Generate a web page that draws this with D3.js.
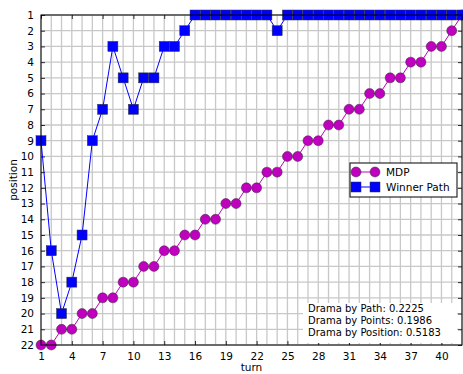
<!DOCTYPE html>
<html>
<head>
<meta charset="utf-8">
<script src="https://cdn.jsdelivr.net/npm/d3@7"></script>
<style>
  body { margin: 0; background: #fff; }
  svg text { font-family: "DejaVu Sans", sans-serif; fill: #000; }
</style>
</head>
<body>
<div id="chart"></div>
<script>
// chart data
const turns = d3.range(1, 43);
const mdp = [22, 22, 21, 21, 20, 20, 19, 19, 18, 18, 17, 17, 16, 16, 15, 15, 14, 14, 13, 13, 12, 12,
  11, 11, 10, 10, 9, 9, 8, 8, 7, 7, 6, 6, 5, 5, 4, 4, 3, 3, 2, 1];
const winnerPath = [9, 16, 20, 18, 15, 9, 7, 3, 5, 7, 5, 5, 3, 3, 2, 1, 1, 1, 1, 1, 1, 1,
  1, 2, 1, 1, 1, 1, 1, 1, 1, 1, 1, 1, 1, 1, 1, 1, 1, 1, 1, 1];
const xTicks = [1, 4, 7, 10, 13, 16, 19, 22, 25, 28, 31, 34, 37, 40];
const yTicks = d3.range(1, 23);
const dramaLines = ['Drama by Path: 0.2225', 'Drama by Points: 0.1986', 'Drama by Position: 0.5183'];
const seriesNames = ['MDP', 'Winner Path'];

const W = 463, H = 374;
const pLeft = 41, pRight = 462, pTop = 15, pBottom = 345;

const svg = d3.select('#chart').append('svg')
  .attr('width', W).attr('height', H);

const x = d3.scaleLinear().domain([1, 42]).range([pLeft, pRight]);
const y = d3.scaleLinear().domain([1, 22]).range([pTop, pBottom]);

// grid lines
const grid = svg.append('g');
grid.selectAll('.vg').data(turns).enter().append('line')
  .attr('x1', d => x(d)).attr('x2', d => x(d))
  .attr('y1', pTop).attr('y2', pBottom)
  .attr('stroke', '#c8c8c8').attr('stroke-width', 1.3);
grid.selectAll('.hg').data(yTicks).enter().append('line')
  .attr('x1', pLeft).attr('x2', pRight)
  .attr('y1', d => y(d)).attr('y2', d => y(d))
  .attr('stroke', '#c8c8c8').attr('stroke-width', 1.3);

// axes (ticks inside, on all four sides)
svg.append('g').attr('transform', 'translate(0,' + pBottom + ')')
  .call(d3.axisBottom(x).tickValues(xTicks).tickSize(-4).tickPadding(8).tickFormat(d3.format('d')))
  .call(g => g.select('.domain').remove());
svg.append('g').attr('transform', 'translate(0,' + pTop + ')')
  .call(d3.axisTop(x).tickValues(xTicks).tickSize(-4).tickFormat(''))
  .call(g => g.select('.domain').remove());
svg.append('g').attr('transform', 'translate(' + pLeft + ',0)')
  .call(d3.axisLeft(y).tickValues(yTicks).tickSize(-4).tickPadding(7).tickFormat(d3.format('d')))
  .call(g => g.select('.domain').remove());
svg.append('g').attr('transform', 'translate(' + pRight + ',0)')
  .call(d3.axisRight(y).tickValues(yTicks).tickSize(-4).tickFormat(''))
  .call(g => g.select('.domain').remove());
svg.selectAll('.tick text').attr('font-size', 10.5).attr('font-family', '"DejaVu Sans", sans-serif').attr('fill', '#000');
svg.selectAll('.tick line').attr('stroke', '#000').attr('stroke-width', 0.8);

// series
const plot = svg.append('g');
const line = d3.line().x((d, i) => x(turns[i])).y(d => y(d));

plot.append('path').datum(mdp)
  .attr('d', line).attr('fill', 'none')
  .attr('stroke', '#bf00bf').attr('stroke-width', 1);
plot.selectAll('.mdp').data(mdp).enter().append('circle')
  .attr('cx', (d, i) => x(turns[i])).attr('cy', d => y(d)).attr('r', 5)
  .attr('fill', '#bf00bf').attr('stroke', '#333').attr('stroke-width', 0.5);

plot.append('path').datum(winnerPath)
  .attr('d', line).attr('fill', 'none')
  .attr('stroke', '#0000ff').attr('stroke-width', 1);
plot.selectAll('.wp').data(winnerPath).enter().append('rect')
  .attr('x', (d, i) => x(turns[i]) - 5).attr('y', d => y(d) - 5)
  .attr('width', 10).attr('height', 10)
  .attr('fill', '#0000ff').attr('stroke', '#333').attr('stroke-width', 0.5);

// frame
svg.append('rect').attr('x', pLeft).attr('y', pTop)
  .attr('width', pRight - pLeft).attr('height', pBottom - pTop)
  .attr('fill', 'none').attr('stroke', '#000').attr('stroke-width', 1);

// axis labels
svg.append('text').attr('x', (pLeft + pRight) / 2).attr('y', 371)
  .attr('text-anchor', 'middle').attr('font-size', 10.5).text('turn');
svg.append('text').attr('transform', 'translate(17,' + ((pTop + pBottom) / 2) + ') rotate(-90)')
  .attr('text-anchor', 'middle').attr('font-size', 10.5).text('position');

// legend
const lg = svg.append('g');
lg.append('rect').attr('x', 350).attr('y', 163).attr('width', 107).attr('height', 34)
  .attr('fill', '#fff').attr('stroke', '#000').attr('stroke-width', 1);
const ly = [172, 187];
lg.append('line').attr('x1', 356).attr('x2', 375).attr('y1', ly[0]).attr('y2', ly[0])
  .attr('stroke', '#bf00bf');
[356, 375].forEach(cx => lg.append('circle').attr('cx', cx).attr('cy', ly[0]).attr('r', 5)
  .attr('fill', '#bf00bf').attr('stroke', '#333').attr('stroke-width', 0.5));
lg.append('line').attr('x1', 356).attr('x2', 375).attr('y1', ly[1]).attr('y2', ly[1])
  .attr('stroke', '#0000ff');
[356, 375].forEach(cx => lg.append('rect').attr('x', cx - 5).attr('y', ly[1] - 5)
  .attr('width', 10).attr('height', 10)
  .attr('fill', '#0000ff').attr('stroke', '#333').attr('stroke-width', 0.5));
seriesNames.forEach((n, i) => lg.append('text').attr('x', 386).attr('y', ly[i] + 4)
  .attr('font-size', 10.5).text(n));

// drama text box
svg.append('rect').attr('x', 303).attr('y', 303).attr('width', 154).attr('height', 40)
  .attr('fill', '#fff');
dramaLines.forEach((t, i) => svg.append('text').attr('x', 308).attr('y', 312 + i * 11.8)
  .attr('font-size', 10).text(t));
</script>
</body>
</html>
